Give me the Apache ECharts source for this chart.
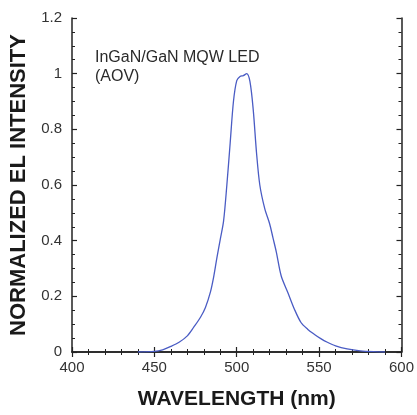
<!DOCTYPE html>
<html>
<head>
<meta charset="utf-8">
<script src="https://cdn.jsdelivr.net/npm/echarts@6/dist/echarts.min.js"></script>
<style>
  html, body { margin: 0; padding: 0; background: #fff; }
  #chart { width: 417px; height: 415px; }
</style>
</head>
<body>
<div id="chart"></div>
<script>
// EL spectrum
var wavelength = [440, 450, 455, 460, 465, 470, 474, 478, 481, 484, 486, 488, 490, 492, 494, 496, 498, 500, 502, 504, 506, 508, 510, 512, 514, 517, 520, 522, 524, 527, 531, 535, 539, 543, 547, 551, 555, 560, 567, 575, 583, 590]
var intensity = [0, 0.002, 0.008, 0.02, 0.035, 0.058, 0.09, 0.125, 0.16, 0.215, 0.27, 0.34, 0.405, 0.47, 0.6, 0.75, 0.9, 0.975, 0.99, 0.993, 1.0, 0.972, 0.871, 0.716, 0.6, 0.515, 0.46, 0.41, 0.36, 0.273, 0.214, 0.154, 0.106, 0.082, 0.064, 0.048, 0.035, 0.022, 0.011, 0.004, 0.001, 0]
var sampleLines = ['InGaN/GaN MQW LED', '(AOV)']

var points = wavelength.map(function (w, i) { return [w, intensity[i]] })

var axisBlack = { lineStyle: { color: '#222', width: 1.5 } }
var tickIn = { inside: true, length: 5, lineStyle: { color: '#222', width: 1.2 } }
var minorIn = { show: true, splitNumber: 5, length: 3, lineStyle: { color: '#222', width: 1 } }
var minorInY = { show: true, splitNumber: 4, length: 3, lineStyle: { color: '#222', width: 1 } }

var chart = echarts.init(document.getElementById('chart'))
chart.setOption({
    animation: false,
    grid: { left: 72, right: 12, top: 18, bottom: 62 },
    graphic: [
        {
            type: 'text', left: 95, top: 48,
            style: { text: sampleLines.join('\n'), font: '16px Arial, "Liberation Sans"', fill: '#2a2a2a', lineHeight: 19 }
        }
    ],
    xAxis: [
        {
            type: 'value', min: 400, max: 600, interval: 50, position: 'bottom',
            axisLine: axisBlack, axisTick: tickIn, minorTick: minorIn,
            splitLine: { show: false },
            axisLabel: { color: '#333', fontSize: 15, fontFamily: 'Arial, "Liberation Sans"', margin: 8 },
            name: 'WAVELENGTH (nm)', nameLocation: 'middle', nameGap: 37,
            nameTextStyle: { color: '#1a1a1a', fontSize: 21, fontWeight: 'bold', fontFamily: 'Arial, "Liberation Sans"' }
        },
        {
            type: 'value', min: 400, max: 600, interval: 50, position: 'top',
            axisLine: axisBlack, axisTick: tickIn, minorTick: minorIn,
            splitLine: { show: false }, axisLabel: { show: false }
        }
    ],
    yAxis: [
        {
            type: 'value', min: 0, max: 1.2, interval: 0.2, position: 'left',
            axisLine: axisBlack, axisTick: tickIn, minorTick: minorInY,
            splitLine: { show: false },
            axisLabel: { color: '#333', fontSize: 15, fontFamily: 'Arial, "Liberation Sans"', margin: 10 },
            name: 'NORMALIZED EL INTENSITY', nameLocation: 'middle', nameGap: 36, nameRotate: 90,
            nameTextStyle: { color: '#1a1a1a', fontSize: 22, fontWeight: 'bold', fontFamily: 'Arial, "Liberation Sans"' }
        },
        {
            type: 'value', min: 0, max: 1.2, interval: 0.2, position: 'right',
            axisLine: axisBlack, axisTick: tickIn, minorTick: minorInY,
            splitLine: { show: false }, axisLabel: { show: false }
        }
    ],
    series: [
        {
            type: 'line',
            data: points,
            smooth: 0.3,
            showSymbol: false,
            lineStyle: { color: '#4a5cc4', width: 1.3 }
        }
    ]
})
</script>
</body>
</html>
